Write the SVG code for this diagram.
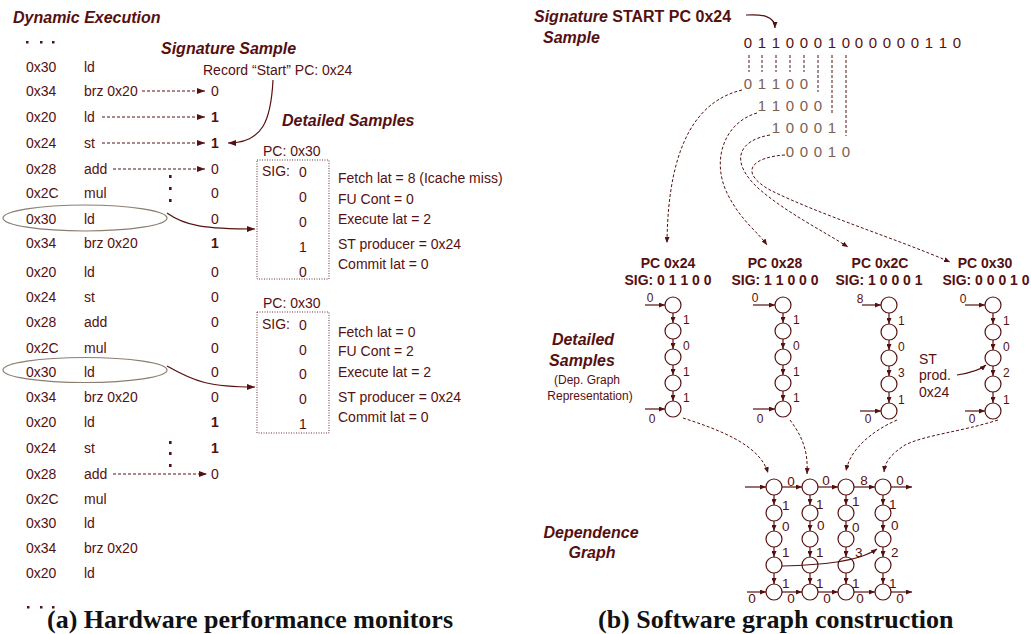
<svg xmlns="http://www.w3.org/2000/svg" width="1031" height="634" viewBox="0 0 1031 634">
<style>
text{font-family:"Liberation Sans",Arial,sans-serif;fill:#561010}
.t{font-size:14px}
.bi{font-size:16px;font-weight:bold;font-style:italic}
.b{font-weight:bold}
.cap{font-family:"Liberation Serif","Times New Roman",serif;font-size:26px;font-weight:bold;fill:#111}
.lbl{font-size:12px}
.gl{font-size:13.5px}
.dig{font-size:15px}
.lt{fill:#7a6050}
.ln{fill:none;stroke:#561010;stroke-width:1.2}
.dsh{fill:none;stroke:#561010;stroke-width:1;stroke-dasharray:3,2}
.nd{fill:#fff;stroke:#561010;stroke-width:1.2}
.box{fill:none;stroke:#6a3030;stroke-width:1;stroke-dasharray:1,1.5}
.ell{fill:none;stroke:#8a7f70;stroke-width:1.2}
</style>
<defs>
<marker id="ah" viewBox="0 0 8 6" refX="8" refY="3" markerWidth="8" markerHeight="6" markerUnits="userSpaceOnUse" orient="auto"><path d="M0,0L8,3L0,6z" fill="#561010"/></marker>
<marker id="as" viewBox="0 0 6 5" refX="6" refY="2.5" markerWidth="6" markerHeight="5" markerUnits="userSpaceOnUse" orient="auto"><path d="M0,0L6,2.5L0,5z" fill="#561010"/></marker>
</defs>

<!-- ===== Left panel ===== -->
<g id="title-dyn"><text x="13" y="23" class="bi">Dynamic Execution</text></g>
<g id="dots-top" fill="#561010"><rect x="26" y="41" width="2.5" height="2.5"/><rect x="40" y="41" width="2.5" height="2.5"/><rect x="52" y="41" width="2.5" height="2.5"/></g>
<g id="dots-bot" fill="#561010"><rect x="27" y="606" width="2.5" height="2.5"/><rect x="40" y="606" width="2.5" height="2.5"/><rect x="52" y="606" width="2.5" height="2.5"/></g>

<g id="exec-list">
<text x="26" y="72" class="t">0x30</text><text x="84" y="72" class="t">ld</text>
<text x="26" y="96" class="t">0x34</text><text x="84" y="96" class="t">brz 0x20</text>
<text x="26" y="122" class="t">0x20</text><text x="84" y="122" class="t">ld</text>
<text x="26" y="148" class="t">0x24</text><text x="84" y="148" class="t">st</text>
<text x="26" y="174" class="t">0x28</text><text x="84" y="174" class="t">add</text>
<text x="26" y="198" class="t">0x2C</text><text x="84" y="198" class="t">mul</text>
<text x="26" y="224" class="t">0x30</text><text x="84" y="224" class="t">ld</text>
<text x="26" y="248" class="t">0x34</text><text x="84" y="248" class="t">brz 0x20</text>
<text x="26" y="277" class="t">0x20</text><text x="84" y="277" class="t">ld</text>
<text x="26" y="302" class="t">0x24</text><text x="84" y="302" class="t">st</text>
<text x="26" y="327" class="t">0x28</text><text x="84" y="327" class="t">add</text>
<text x="26" y="353" class="t">0x2C</text><text x="84" y="353" class="t">mul</text>
<text x="26" y="377" class="t">0x30</text><text x="84" y="377" class="t">ld</text>
<text x="26" y="402" class="t">0x34</text><text x="84" y="402" class="t">brz 0x20</text>
<text x="26" y="427" class="t">0x20</text><text x="84" y="427" class="t">ld</text>
<text x="26" y="453" class="t">0x24</text><text x="84" y="453" class="t">st</text>
<text x="26" y="479" class="t">0x28</text><text x="84" y="479" class="t">add</text>
<text x="26" y="504" class="t">0x2C</text><text x="84" y="504" class="t">mul</text>
<text x="26" y="528" class="t">0x30</text><text x="84" y="528" class="t">ld</text>
<text x="26" y="553" class="t">0x34</text><text x="84" y="553" class="t">brz 0x20</text>
<text x="26" y="578" class="t">0x20</text><text x="84" y="578" class="t">ld</text>
</g>

<g id="sig-values" text-anchor="middle">
<text x="215" y="96" class="t">0</text>
<text x="215" y="122" class="t b">1</text>
<text x="215" y="148" class="t b">1</text>
<text x="215" y="174" class="t">0</text>
<text x="215" y="198" class="t">0</text>
<text x="215" y="224" class="t">0</text>
<text x="215" y="248" class="t b">1</text>
<text x="215" y="277" class="t">0</text>
<text x="215" y="302" class="t">0</text>
<text x="215" y="327" class="t">0</text>
<text x="215" y="353" class="t">0</text>
<text x="215" y="377" class="t">0</text>
<text x="215" y="402" class="t">0</text>
<text x="215" y="427" class="t b">1</text>
<text x="215" y="453" class="t b">1</text>
<text x="215" y="479" class="t">0</text>
</g>

<g id="vdots" fill="#561010">
<rect x="169" y="175" width="2.6" height="3"/><rect x="169" y="187" width="2.6" height="3"/><rect x="169" y="199" width="2.6" height="3"/>
<rect x="169" y="441" width="2.6" height="3"/><rect x="169" y="452" width="2.6" height="3"/><rect x="169" y="464" width="2.6" height="3"/>
</g>

<g id="ellipses">
<ellipse cx="85" cy="218" rx="82" ry="13" class="ell"/>
<ellipse cx="85" cy="370" rx="82" ry="12.5" class="ell"/>
</g>

<g id="sig-sample-label">
<text x="161" y="54" class="bi">Signature Sample</text>
<text x="203" y="75" class="t">Record “Start” PC: 0x24</text>
</g>

<g id="detailed-label"><text x="282" y="126" class="bi">Detailed Samples</text></g>

<g id="sample1">
<text x="263" y="156" class="t">PC: 0x30</text>
<rect x="257" y="160" width="72" height="119" class="box"/>
<text x="262" y="176" class="t">SIG:</text>
<g text-anchor="middle"><text x="303" y="177" class="t">0</text><text x="303" y="202" class="t">0</text><text x="303" y="227" class="t">0</text><text x="303" y="252" class="t">1</text><text x="303" y="277" class="t">0</text></g>
<text x="338" y="183" class="t">Fetch lat = 8 (Icache miss)</text>
<text x="338" y="204" class="t">FU Cont = 0</text>
<text x="338" y="224" class="t">Execute lat = 2</text>
<text x="338" y="249" class="t">ST producer = 0x24</text>
<text x="338" y="269" class="t">Commit lat = 0</text>
</g>

<g id="sample2">
<text x="263" y="308" class="t">PC: 0x30</text>
<rect x="257" y="312" width="72" height="121" class="box"/>
<text x="262" y="329" class="t">SIG:</text>
<g text-anchor="middle"><text x="303" y="330" class="t">0</text><text x="303" y="355" class="t">0</text><text x="303" y="379" class="t">0</text><text x="303" y="404" class="t">0</text><text x="303" y="429" class="t">1</text></g>
<text x="338" y="337" class="t">Fetch lat = 0</text>
<text x="338" y="356" class="t">FU Cont = 2</text>
<text x="338" y="377" class="t">Execute lat = 2</text>
<text x="338" y="402" class="t">ST producer = 0x24</text>
<text x="338" y="422" class="t">Commit lat = 0</text>
</g>

<g id="left-connectors">
<path d="M142,91H205" class="dsh" marker-end="url(#ah)"/>
<path d="M102,117H205" class="dsh" marker-end="url(#ah)"/>
<path d="M102,143H205" class="dsh" marker-end="url(#ah)"/>
<path d="M113,169H205" class="dsh" marker-end="url(#ah)"/>
<path d="M113,474H207" class="dsh" marker-end="url(#ah)"/>
<path d="M273,80C271,120 263,143 228,143" class="ln" marker-end="url(#ah)"/>
<path d="M167,213C185,226 205,229 255,229" class="ln" marker-end="url(#ah)"/>
<path d="M167,366C195,382 210,387 255,387" class="ln" marker-end="url(#ah)"/>
</g>

<g id="caption-a"><text x="47" y="628" class="cap">(a) Hardware performance monitors</text></g>

<!-- ===== Right panel ===== -->
<g id="sig-start">
<text x="534" y="22" class="bi" font-size="16.5">Signature <tspan font-style="normal">START PC 0x24</tspan></text>
<text x="543" y="43" class="bi" font-size="16.5">Sample</text>
</g>

<g id="bits">
<text y="48" class="dig" text-anchor="middle" x="748 762 776 790 804 818 832 846 859 873 887 901 915 929 943 957">0110001000000110</text>
<text y="89" class="dig lt" text-anchor="middle" x="748 762 776 790 804">01100</text>
<text y="111" class="dig lt" text-anchor="middle" x="762 776 790 804 818">11000</text>
<text y="133" class="dig lt" text-anchor="middle" x="776 790 804 818 832">10001</text>
<text y="157" class="dig lt" text-anchor="middle" x="790 804 818 832 846">00010</text>
</g>

<g id="pc24">
<text x="668" y="268" class="b" font-size="14" text-anchor="middle">PC 0x24</text>
<text x="668" y="285" class="b" font-size="14" text-anchor="middle">SIG: 0 1 1 0 0</text>
<circle cx="673" cy="305" r="8" class="nd"/><circle cx="673" cy="331" r="8" class="nd"/><circle cx="673" cy="357" r="8" class="nd"/><circle cx="673" cy="383" r="8" class="nd"/><circle cx="673" cy="409" r="8" class="nd"/>
<text x="683" y="324" class="lbl">1</text><text x="683" y="350" class="lbl">0</text><text x="683" y="376" class="lbl">1</text><text x="683" y="402" class="lbl">1</text>
<text x="650" y="302" class="lbl" text-anchor="middle">0</text><text x="652" y="423" class="lbl" text-anchor="middle">0</text>
</g>
<g id="pc28">
<text x="775" y="268" class="b" font-size="14" text-anchor="middle">PC 0x28</text>
<text x="775" y="285" class="b" font-size="14" text-anchor="middle">SIG: 1 1 0 0 0</text>
<circle cx="783" cy="305" r="8" class="nd"/><circle cx="783" cy="331" r="8" class="nd"/><circle cx="783" cy="357" r="8" class="nd"/><circle cx="783" cy="383" r="8" class="nd"/><circle cx="783" cy="409" r="8" class="nd"/>
<text x="793" y="324" class="lbl">1</text><text x="793" y="350" class="lbl">0</text><text x="793" y="376" class="lbl">1</text><text x="793" y="402" class="lbl">1</text>
<text x="755" y="302" class="lbl" text-anchor="middle">0</text><text x="760" y="423" class="lbl" text-anchor="middle">0</text>
</g>
<g id="pc2c">
<text x="880" y="268" class="b" font-size="14" text-anchor="middle">PC 0x2C</text>
<text x="879" y="285" class="b" font-size="14" text-anchor="middle">SIG: 1 0 0 0 1</text>
<circle cx="889" cy="305" r="8" class="nd"/><circle cx="889" cy="332" r="8" class="nd"/><circle cx="889" cy="358" r="8" class="nd"/><circle cx="889" cy="384" r="8" class="nd"/><circle cx="889" cy="411" r="8" class="nd"/>
<text x="898" y="325" class="lbl">1</text><text x="898" y="351" class="lbl">0</text><text x="898" y="377" class="lbl">3</text><text x="898" y="404" class="lbl">1</text>
<text x="860" y="303" class="lbl" text-anchor="middle">8</text><text x="868" y="423" class="lbl" text-anchor="middle">0</text>
</g>
<g id="pc30">
<text x="985" y="268" class="b" font-size="14" text-anchor="middle">PC 0x30</text>
<text x="986" y="285" class="b" font-size="14" text-anchor="middle">SIG: 0 0 0 1 0</text>
<circle cx="993" cy="305" r="8" class="nd"/><circle cx="993" cy="332" r="8" class="nd"/><circle cx="993" cy="358" r="8" class="nd"/><circle cx="993" cy="384" r="8" class="nd"/><circle cx="993" cy="411" r="8" class="nd"/>
<text x="1003" y="325" class="lbl">1</text><text x="1003" y="351" class="lbl">0</text><text x="1003" y="377" class="lbl">2</text><text x="1003" y="404" class="lbl">1</text>
<text x="963" y="303" class="lbl" text-anchor="middle">0</text><text x="972" y="423" class="lbl" text-anchor="middle">0</text>
<text x="919" y="364" font-size="14">ST</text><text x="919" y="380" font-size="14">prod.</text><text x="919" y="397" font-size="14">0x24</text>
</g>

<g id="detailed-right" text-anchor="middle">
<text x="583" y="345" class="bi">Detailed</text>
<text x="582" y="366" class="bi">Samples</text>
<text x="587" y="384" font-size="12">(Dep. Graph</text>
<text x="590" y="400" font-size="12">Representation)</text>
</g>

<g id="dep-graph-label" text-anchor="middle">
<text x="591" y="538" class="bi">Dependence</text>
<text x="592" y="558" class="bi">Graph</text>
</g>

<g id="dep-graph">
<g>
<circle cx="774" cy="487" r="8" class="nd"/><circle cx="810" cy="487" r="8" class="nd"/><circle cx="846" cy="487" r="8" class="nd"/><circle cx="883" cy="487" r="8" class="nd"/>
<circle cx="774" cy="513" r="8" class="nd"/><circle cx="810" cy="513" r="8" class="nd"/><circle cx="846" cy="513" r="8" class="nd"/><circle cx="883" cy="513" r="8" class="nd"/>
<circle cx="774" cy="539" r="8" class="nd"/><circle cx="810" cy="539" r="8" class="nd"/><circle cx="846" cy="539" r="8" class="nd"/><circle cx="883" cy="539" r="8" class="nd"/>
<circle cx="774" cy="565" r="8" class="nd"/><circle cx="810" cy="565" r="8" class="nd"/><circle cx="846" cy="565" r="8" class="nd"/><circle cx="883" cy="565" r="8" class="nd"/>
<circle cx="774" cy="592" r="8" class="nd"/><circle cx="810" cy="592" r="8" class="nd"/><circle cx="846" cy="592" r="8" class="nd"/><circle cx="883" cy="592" r="8" class="nd"/>
</g>
<g>
<text x="791" y="486" class="gl" text-anchor="middle">0</text><text x="826" y="485" class="gl" text-anchor="middle">0</text><text x="864" y="485" class="gl" text-anchor="middle">8</text><text x="900" y="485" class="gl" text-anchor="middle">0</text>
<text x="752" y="603" class="gl" text-anchor="middle">0</text><text x="791" y="603" class="gl" text-anchor="middle">0</text><text x="827" y="603" class="gl" text-anchor="middle">0</text><text x="860" y="603" class="gl" text-anchor="middle">0</text><text x="900" y="603" class="gl" text-anchor="middle">0</text>
<text x="782" y="510" class="gl">1</text><text x="782" y="531" class="gl">0</text><text x="782" y="557" class="gl">1</text><text x="782" y="588" class="gl">1</text>
<text x="816" y="509" class="gl">1</text><text x="817" y="530" class="gl">0</text><text x="816" y="557" class="gl">1</text><text x="816" y="588" class="gl">1</text>
<text x="852" y="506" class="gl">1</text><text x="852" y="532" class="gl">0</text><text x="855" y="557" class="gl">3</text><text x="852" y="588" class="gl">1</text>
<text x="889" y="509" class="gl">1</text><text x="891" y="530" class="gl">0</text><text x="891" y="557" class="gl">2</text><text x="889" y="588" class="gl">1</text>
</g>
</g>

<g id="caption-b"><text x="598" y="628" class="cap">(b) Software graph construction</text></g>

<g id="right-connectors">
<path d="M746,15C762,14 775,16 775,28" class="ln" marker-end="url(#as)"/>
<path d="M749,55V72M762,55V72M776,55V72M790,55V72M804,55V72M818,55V92M832,55V113M846,55V136" class="dsh"/>
<path d="M742,90C700,100 668,140 667,243" class="dsh" marker-end="url(#as)"/>
<path d="M757,113C725,122 710,160 728,195C742,222 758,232 767,245" class="dsh" marker-end="url(#as)"/>
<path d="M770,135C740,140 728,160 758,188C785,212 825,232 848,247" class="dsh" marker-end="url(#as)"/>
<path d="M785,155C752,157 738,172 770,190C820,215 900,240 950,262" class="dsh" marker-end="url(#as)"/>

<path d="M645,305H665" class="ln" marker-end="url(#as)"/>
<path d="M645,409H665" class="ln" marker-end="url(#as)"/>
<path d="M753,305H775" class="ln" marker-end="url(#as)"/>
<path d="M753,409H775" class="ln" marker-end="url(#as)"/>
<path d="M862,305H881" class="ln" marker-end="url(#as)"/>
<path d="M860,411H881" class="ln" marker-end="url(#as)"/>
<path d="M965,305H985" class="ln" marker-end="url(#as)"/>
<path d="M965,411H985" class="ln" marker-end="url(#as)"/>

<path d="M673,313V323" class="ln" marker-end="url(#as)"/><path d="M673,339V349" class="ln" marker-end="url(#as)"/><path d="M673,365V375" class="ln" marker-end="url(#as)"/><path d="M673,391V401" class="ln" marker-end="url(#as)"/>
<path d="M783,313V323" class="ln" marker-end="url(#as)"/><path d="M783,339V349" class="ln" marker-end="url(#as)"/><path d="M783,365V375" class="ln" marker-end="url(#as)"/><path d="M783,391V401" class="ln" marker-end="url(#as)"/>
<path d="M889,313V324" class="ln" marker-end="url(#as)"/><path d="M889,340V350" class="ln" marker-end="url(#as)"/><path d="M889,366V376" class="ln" marker-end="url(#as)"/><path d="M889,392V403" class="ln" marker-end="url(#as)"/>
<path d="M993,313V324" class="ln" marker-end="url(#as)"/><path d="M993,340V350" class="ln" marker-end="url(#as)"/><path d="M993,366V376" class="ln" marker-end="url(#as)"/><path d="M993,392V403" class="ln" marker-end="url(#as)"/>
<path d="M957,375C970,373 980,370 986,365" class="ln" marker-end="url(#as)"/>

<path d="M683,418C720,430 760,445 768,473" class="dsh" marker-end="url(#as)"/>
<path d="M790,420C805,440 808,455 807,474" class="dsh" marker-end="url(#as)"/>
<path d="M897,420C870,432 850,450 846,471" class="dsh" marker-end="url(#as)"/>
<path d="M998,420C960,432 925,435 905,445C890,455 885,462 884,472" class="dsh" marker-end="url(#as)"/>

<path d="M745,487H766" class="ln" marker-end="url(#as)"/><path d="M782,487H802" class="ln" marker-end="url(#as)"/><path d="M818,487H838" class="ln" marker-end="url(#as)"/><path d="M854,487H875" class="ln" marker-end="url(#as)"/><path d="M891,487H912" class="ln" marker-end="url(#as)"/>
<path d="M747,592H766" class="ln" marker-end="url(#as)"/><path d="M782,592H802" class="ln" marker-end="url(#as)"/><path d="M818,592H838" class="ln" marker-end="url(#as)"/><path d="M854,592H875" class="ln" marker-end="url(#as)"/><path d="M891,592H912" class="ln" marker-end="url(#as)"/>
<path d="M774,495V505" class="ln" marker-end="url(#as)"/><path d="M774,521V531" class="ln" marker-end="url(#as)"/><path d="M774,547V557" class="ln" marker-end="url(#as)"/><path d="M774,573V584" class="ln" marker-end="url(#as)"/>
<path d="M810,495V505" class="ln" marker-end="url(#as)"/><path d="M810,521V531" class="ln" marker-end="url(#as)"/><path d="M810,547V557" class="ln" marker-end="url(#as)"/><path d="M810,573V584" class="ln" marker-end="url(#as)"/>
<path d="M846,495V505" class="ln" marker-end="url(#as)"/><path d="M846,521V531" class="ln" marker-end="url(#as)"/><path d="M846,547V557" class="ln" marker-end="url(#as)"/><path d="M846,573V584" class="ln" marker-end="url(#as)"/>
<path d="M883,495V505" class="ln" marker-end="url(#as)"/><path d="M883,521V531" class="ln" marker-end="url(#as)"/><path d="M883,547V557" class="ln" marker-end="url(#as)"/><path d="M883,573V584" class="ln" marker-end="url(#as)"/>
<path d="M782,566C820,565 858,562 877,549" class="ln" marker-end="url(#as)"/>
</g>
</svg>
